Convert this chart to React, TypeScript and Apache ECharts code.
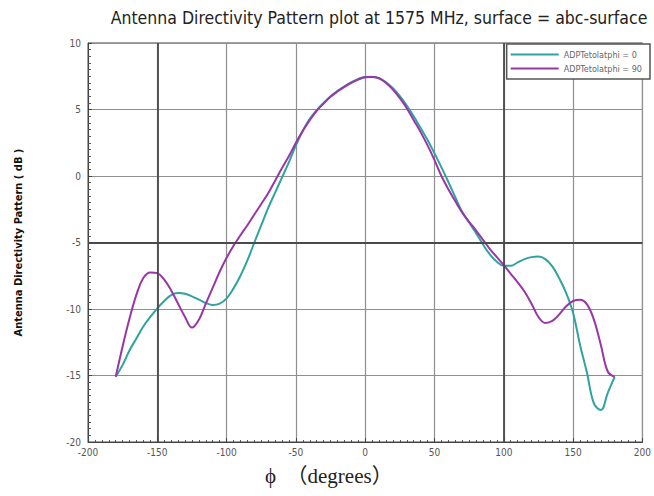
import React, { useEffect, useRef } from "react";
import * as echarts from "echarts";

const titleText = "Antenna Directivity Pattern plot at 1575 MHz, surface = abc-surface";
const yAxisTitle = "Antenna Directivity Pattern ( dB )";
const xAxisTitle = "ϕ  （degrees）";
const seriesNames = ["ADPTetolatphi = 0", "ADPTetolatphi = 90"];

const phi = [
  -180, -175, -170, -165, -160, -155, -150, -145, -140, -135, -130, -125, -120, -115, -110, -105,
  -100, -95, -90, -85, -80, -75, -70, -65, -60, -55, -50, -45, -40, -35, -30, -25, -20, -15, -10,
  -5, 0, 5, 10, 15, 20, 25, 30, 35, 40, 45, 50, 55, 60, 65, 70, 75, 80, 85, 90, 95, 100, 105, 110,
  115, 120, 125, 130, 135, 140, 145, 150, 155, 160, 165, 170, 175, 180,
];

const adpPhi0 = [
  -15.1, -14.2, -13.1, -12.2, -11.3, -10.6, -9.95, -9.4, -8.95, -8.8, -8.85, -9.05, -9.3, -9.55,
  -9.7, -9.6, -9.2, -8.45, -7.5, -6.35, -5.0, -3.7, -2.4, -1.25, -0.1, 1.05, 2.3, 3.4, 4.3, 4.95,
  5.5, 6.0, 6.4, 6.75, 7.05, 7.3, 7.45, 7.47, 7.35, 7.05, 6.6, 6.0, 5.3, 4.5, 3.6, 2.7, 1.7, 0.65,
  -0.45, -1.6, -2.7, -3.5, -4.3, -5.15, -5.9, -6.45, -6.75, -6.75, -6.5, -6.25, -6.1, -6.05, -6.25,
  -6.8, -7.7, -8.8, -10.3, -12.7, -14.8, -17.1, -17.6, -16.3, -15.1,
];

const adpPhi90 = [
  -15.1, -12.8, -10.7, -8.9, -7.65, -7.25, -7.3, -7.8, -8.6, -9.6, -10.6, -11.4, -10.8, -9.6, -8.4,
  -7.2, -6.15, -5.25, -4.45, -3.7, -2.9, -2.1, -1.3, -0.35, 0.6, 1.5, 2.5, 3.4, 4.2, 4.9, 5.45, 5.95,
  6.35, 6.7, 7.0, 7.25, 7.42, 7.45, 7.35, 7.0, 6.5, 5.85, 5.1, 4.2, 3.3, 2.3, 1.2, 0.0, -1.0, -1.9,
  -2.75, -3.45, -4.1, -4.8, -5.5, -6.1, -6.7, -7.35, -8.0, -8.7, -9.6, -10.6, -11.05, -10.9, -10.4,
  -9.8, -9.4, -9.3, -9.65, -10.8, -12.7, -14.7, -15.1,
];

const darkGridX = [-150, 100];
const darkGridY = [-5];

const narrow = '"Liberation Sans Narrow", "DejaVu Sans Condensed", "Arial Narrow", sans-serif';

export default function App() {
  const ref = useRef<HTMLDivElement>(null);

  useEffect(() => {
    if (!ref.current) return;
    const chart = echarts.init(ref.current, undefined, { renderer: "svg" });
    const pairs = (ys: number[]) => phi.map((x, i) => [x, ys[i]]);
    chart.setOption({
      animation: false,
      backgroundColor: "#ffffff",
      title: {
        text: titleText,
        left: 374,
        textAlign: "center",
        top: 4,
        textStyle: { fontFamily: narrow, fontSize: 17.5, fontWeight: "normal", color: "#222" },
      },
      legend: {
        orient: "vertical",
        right: 4,
        top: 44,
        icon: "rect",
        itemWidth: 48,
        itemHeight: 2,
        itemGap: 5,
        padding: [6, 8, 6, 4],
        backgroundColor: "#ffffff",
        borderColor: "#555",
        borderWidth: 1.5,
        textStyle: { fontFamily: narrow, fontSize: 9, color: "#666" },
        data: seriesNames,
      },
      grid: {
        left: 88,
        right: 2,
        top: 43,
        bottom: 54,
        show: true,
        borderColor: "#444",
        borderWidth: 1,
        backgroundColor: "transparent",
      },
      xAxis: {
        type: "value",
        min: -200,
        max: 200,
        interval: 50,
        axisLine: { show: true, onZero: false, lineStyle: { color: "#444", width: 1 } },
        axisTick: { show: true, inside: true, length: 4, lineStyle: { color: "#444" } },
        minorTick: { show: true, splitNumber: 10, length: 2, lineStyle: { color: "#555" } },
        splitLine: { show: true, lineStyle: { color: "#8f8f8f", width: 1.2 } },
        axisLabel: { fontFamily: narrow, fontSize: 10, color: "#555", margin: 5 },
      },
      yAxis: {
        type: "value",
        min: -20,
        max: 10,
        interval: 5,
        name: yAxisTitle,
        nameLocation: "middle",
        nameGap: 64,
        nameRotate: 90,
        nameTextStyle: { fontFamily: narrow, fontSize: 11, fontWeight: "bold", color: "#111" },
        axisLine: { show: true, onZero: false, lineStyle: { color: "#444", width: 1 } },
        axisTick: { show: true, inside: true, length: 4, lineStyle: { color: "#444" } },
        minorTick: { show: true, splitNumber: 10, length: 3, lineStyle: { color: "#555" } },
        splitLine: { show: true, lineStyle: { color: "#8f8f8f", width: 1.2 } },
        axisLabel: { fontFamily: narrow, fontSize: 10, color: "#555", margin: 7 },
      },
      graphic: [
        {
          type: "text",
          left: 265,
          top: 465,
          style: {
            text: xAxisTitle,
            font: '21px "Liberation Serif", "Noto Sans CJK SC", serif',
            fill: "#222",
          },
        },
      ],
      series: [
        {
          name: seriesNames[0],
          type: "line",
          data: pairs(adpPhi0),
          smooth: 0.4,
          showSymbol: false,
          lineStyle: { color: "#2fa39e", width: 2 },
          itemStyle: { color: "#2fa39e" },
          z: 3,
          markLine: {
            silent: true,
            symbol: "none",
            label: { show: false },
            lineStyle: { color: "#4a4a4a", width: 1.8, type: "solid" },
            data: [
              ...darkGridX.map((v) => ({ xAxis: v })),
              ...darkGridY.map((v) => ({ yAxis: v })),
            ],
          },
        },
        {
          name: seriesNames[1],
          type: "line",
          data: pairs(adpPhi90),
          smooth: 0.4,
          showSymbol: false,
          lineStyle: { color: "#9a35a8", width: 2 },
          itemStyle: { color: "#9a35a8" },
          z: 4,
        },
      ],
    });
    return () => chart.dispose();
  }, []);

  return (
    <div
      ref={ref}
      style={{ position: "fixed", left: 0, top: 0, width: 654, height: 496, background: "#fff" }}
    />
  );
}
